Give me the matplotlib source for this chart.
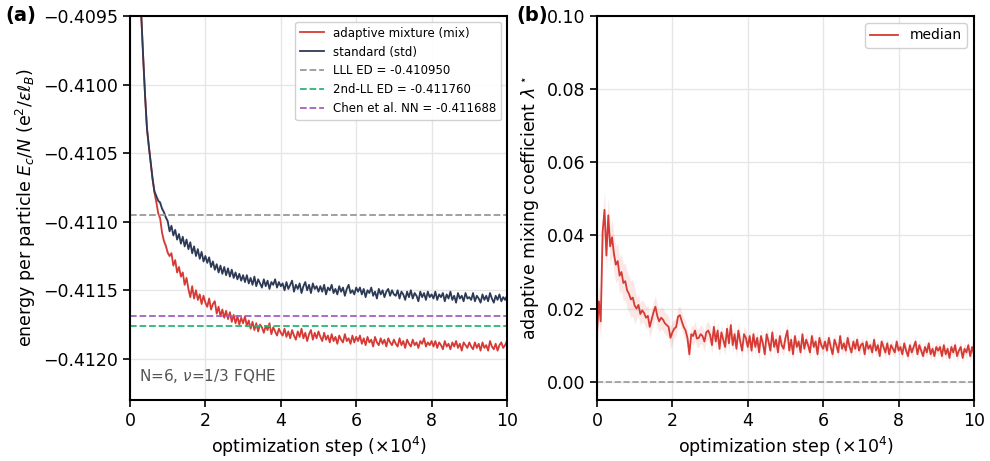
import numpy as np
import matplotlib
matplotlib.use("Agg")
import matplotlib.pyplot as plt
from matplotlib.ticker import FuncFormatter

# optimization steps (x 1e4), sampled every 0.05
steps = np.arange(1, 201) * 0.05
steps_lam = np.arange(0, 201) * 0.05

# energies stored as micro-units below -0.41:  E = -0.41 - v * 1e-6
mix_v = [
    -2500, -2000, -1600, -1200, -850, -500, -200, 80, 320, 450, 570, 690, 790, 860, 940, 975, 1080, 1140, 1175, 1225,
    1250, 1230, 1320, 1280, 1370, 1330, 1400, 1370, 1460, 1410, 1490, 1550, 1470, 1560, 1500, 1570, 1530, 1600, 1540, 1590,
    1620, 1560, 1640, 1600, 1580, 1670, 1620, 1690, 1640, 1700, 1650, 1710, 1660, 1730, 1680, 1740, 1690, 1750, 1700, 1740,
    1690, 1760, 1720, 1780, 1730, 1790, 1740, 1800, 1750, 1770, 1810, 1760, 1790, 1740, 1820, 1770, 1800, 1830, 1780, 1810,
    1830, 1780, 1840, 1800, 1850, 1790, 1830, 1860, 1800, 1840, 1780, 1850, 1810, 1870, 1820, 1790, 1860, 1810, 1850, 1800,
    1840, 1870, 1810, 1860, 1830, 1880, 1820, 1870, 1840, 1890, 1830, 1860, 1880, 1820, 1870, 1850, 1890, 1830, 1880, 1840,
    1870, 1830, 1890, 1850, 1900, 1840, 1880, 1860, 1910, 1840, 1880, 1900, 1850, 1890, 1860, 1910, 1850, 1880, 1900, 1860,
    1890, 1910, 1850, 1900, 1870, 1920, 1860, 1890, 1910, 1860, 1900, 1880, 1920, 1870, 1890, 1850, 1910, 1880, 1900, 1870,
    1910, 1870, 1920, 1880, 1900, 1930, 1870, 1910, 1890, 1930, 1880, 1910, 1870, 1920, 1890, 1940, 1880, 1900, 1920, 1880,
    1910, 1930, 1880, 1920, 1890, 1940, 1880, 1920, 1900, 1940, 1870, 1910, 1930, 1890, 1940, 1900, 1880, 1920, 1900, 1870,
]
std_v = [
    -2500, -2000, -1600, -1200, -850, -500, -200, 80, 320, 450, 570, 690, 780, 815, 848, 860, 905, 930, 968, 995,
    1070, 1030, 1100, 1060, 1130, 1090, 1160, 1110, 1180, 1130, 1200, 1150, 1230, 1180, 1250, 1200, 1270, 1220, 1290, 1250,
    1300, 1260, 1330, 1290, 1350, 1310, 1370, 1320, 1380, 1330, 1390, 1340, 1400, 1350, 1410, 1370, 1420, 1380, 1430, 1390,
    1440, 1390, 1450, 1410, 1460, 1400, 1470, 1420, 1450, 1480, 1420, 1470, 1430, 1490, 1440, 1460, 1420, 1480, 1440, 1470,
    1450, 1500, 1440, 1490, 1460, 1430, 1510, 1460, 1490, 1450, 1520, 1470, 1440, 1500, 1460, 1520, 1450, 1490, 1470, 1510,
    1470, 1510, 1460, 1530, 1480, 1500, 1460, 1520, 1490, 1530, 1470, 1510, 1480, 1540, 1490, 1460, 1520, 1500, 1530, 1480,
    1510, 1480, 1530, 1490, 1550, 1500, 1520, 1480, 1540, 1510, 1560, 1490, 1530, 1500, 1550, 1510, 1490, 1540, 1500, 1530,
    1540, 1500, 1560, 1510, 1530, 1570, 1510, 1550, 1500, 1560, 1520, 1540, 1580, 1510, 1550, 1520, 1570, 1510, 1550, 1530,
    1560, 1510, 1570, 1530, 1550, 1520, 1580, 1530, 1560, 1510, 1570, 1540, 1590, 1520, 1560, 1540, 1580, 1520, 1560, 1550,
    1570, 1520, 1580, 1540, 1560, 1590, 1530, 1570, 1540, 1580, 1520, 1560, 1590, 1540, 1570, 1530, 1580, 1550, 1570, 1540,
]
# band half-widths per unit step (micro-units)
mix_spread = [30, 22, 18, 15, 14, 13, 12, 12, 12, 12]
std_spread = [25, 18, 15, 14, 13, 12, 12, 12, 12, 12]

# adaptive mixing coefficient, stored as 1e-4 units
lam_v = [
    134,
    220, 165, 410, 470, 345, 455, 370, 395, 350, 320, 330, 290, 300, 270, 275, 250, 240, 225, 230, 208,
    200, 210, 185, 195, 188, 175, 180, 150, 170, 190, 205, 180, 165, 175, 170, 160, 155, 150, 120, 135,
    145, 150, 178, 182, 165, 150, 140, 120, 75, 130, 125, 140, 118, 120, 130, 125, 110, 135, 140, 128,
    100, 150, 110, 140, 90, 135, 115, 95, 145, 105, 155, 100, 130, 90, 140, 110, 85, 130, 120, 95,
    125, 85, 130, 95, 120, 80, 125, 105, 75, 130, 110, 85, 135, 95, 115, 80, 125, 100, 90, 120,
    140, 85, 115, 75, 125, 95, 110, 80, 130, 90, 115, 100, 80, 125, 95, 110, 75, 120, 100, 90,
    110, 85, 120, 95, 75, 115, 100, 80, 125, 90, 105, 85, 120, 95, 80, 110, 90, 115, 85, 100,
    105, 75, 110, 90, 100, 80, 115, 85, 100, 70, 110, 95, 80, 105, 75, 100, 90, 80, 110, 85,
    95, 75, 105, 85, 70, 100, 80, 95, 110, 75, 100, 85, 70, 95, 80, 105, 75, 90, 70, 95,
    85, 95, 70, 100, 75, 90, 65, 95, 80, 100, 70, 85, 95, 65, 90, 80, 100, 70, 95, 75,
]
lam_spread = [50, 30, 25, 22, 20, 18, 16, 15, 15, 15]

refs = {
    "LLL ED": -0.410950,
    "2nd-LL ED": -0.411760,
    "Chen et al. NN": -0.411688,
}
ref_colors = ["#999999", "#2bb673", "#a55fc0"]

RED = "#d63a34"
NAVY = "#2c3a55"

e_mix = -0.41 - np.array(mix_v) * 1e-6
e_std = -0.41 - np.array(std_v) * 1e-6
s_mix = np.repeat(mix_spread, 20) * 1e-6
s_std = np.repeat(std_spread, 20) * 1e-6
lam = np.array(lam_v) * 1e-4
s_lam = np.concatenate([[lam_spread[0]], np.repeat(lam_spread, 20)]) * 1e-4


def minus_fmt(digits):
    return FuncFormatter(lambda v, pos: f"{v:.{digits}f}".replace("-", "\u2212"))


plt.rcParams["font.family"] = "DejaVu Sans"
fig = plt.figure(figsize=(9.9, 4.61), dpi=100)
ax1 = fig.add_axes([0.1313, 0.1323, 0.3808, 0.833])
ax2 = fig.add_axes([0.603, 0.1323, 0.3808, 0.833])

for ax in (ax1, ax2):
    ax.grid(True, color="#e6e6e6", linewidth=1.0)
    ax.set_axisbelow(True)
    for sp in ax.spines.values():
        sp.set_linewidth(1.5)
    ax.tick_params(labelsize=12.5, width=1.2, length=5)
    ax.set_xlim(0, 10)
    ax.set_xticks([0, 2, 4, 6, 8, 10])
    ax.set_xlabel(r"optimization step ($\times10^4$)", fontsize=12.5)

# panel (a)
ax1.fill_between(steps, e_mix - s_mix, e_mix + s_mix, color=RED, alpha=0.12, lw=0)
ax1.fill_between(steps, e_std - s_std, e_std + s_std, color=NAVY, alpha=0.10, lw=0)
ax1.plot(steps, e_mix, color=RED, lw=1.3, label="adaptive mixture (mix)")
ax1.plot(steps, e_std, color=NAVY, lw=1.3, label="standard (std)")
for (name, val), c in zip(refs.items(), ref_colors):
    ax1.axhline(val, color=c, ls="--", lw=1.3, label=f"{name} = {val:.6f}")
ax1.set_ylim(-0.4123, -0.4095)
ax1.set_yticks([-0.4120, -0.4115, -0.4110, -0.4105, -0.4100, -0.4095])
ax1.yaxis.set_major_formatter(minus_fmt(4))
ax1.set_ylabel(r"energy per particle $E_c/N$ (e$^2/\varepsilon\ell_B$)", fontsize=12.5)
ax1.legend(loc="upper right", fontsize=8.5, framealpha=0.9, edgecolor="#cccccc")
ax1.text(0.025, 0.05, r"N=6, $\nu$=1/3 FQHE", transform=ax1.transAxes,
         fontsize=11, color="#555555")
ax1.text(-0.33, 1.0, "(a)", transform=ax1.transAxes, fontsize=14, fontweight="bold",
         va="center")

# panel (b)
ax2.fill_between(steps_lam, lam - s_lam, lam + s_lam, color=RED, alpha=0.12, lw=0)
ax2.plot(steps_lam, lam, color=RED, lw=1.3, label="median")
ax2.axhline(0.0, color="#999999", ls="--", lw=1.2)
ax2.set_ylim(-0.005, 0.10)
ax2.set_yticks([0.0, 0.02, 0.04, 0.06, 0.08, 0.10])
ax2.yaxis.set_major_formatter(minus_fmt(2))
ax2.set_ylabel(r"adaptive mixing coefficient $\lambda^\star$", fontsize=12.5)
ax2.legend(loc="upper right", fontsize=10, framealpha=0.9, edgecolor="#cccccc")
ax2.text(-0.215, 1.0, "(b)", transform=ax2.transAxes, fontsize=14, fontweight="bold",
         va="center")

fig.savefig("out.png", dpi=100)
